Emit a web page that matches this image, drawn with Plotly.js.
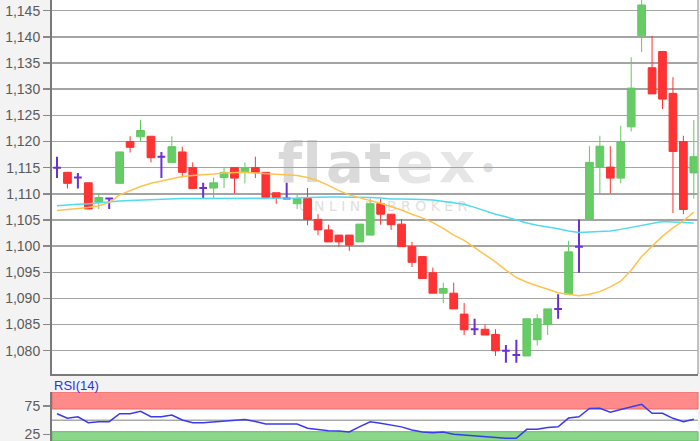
<!DOCTYPE html>
<html><head><meta charset="utf-8">
<script src="https://cdn.plot.ly/plotly-3.0.1.min.js"></script>
<style>html,body{margin:0;padding:0;background:#f3f3f3;} #chart{width:700px;height:441px;}</style>
</head><body><div id="chart"></div>
<script>
const session = [0,1,2,3,4,5,6,7,8,9,10,11,12,13,14,15,16,17,18,19,20,21,22,23,24,25,26,27,28,29,30,
  31,32,33,34,35,36,37,38,39,40,41,42,43,44,45,46,47,48,49,50,51,52,53,54,55,56,57,58,59,60,61];
const open = [1.1150,1.1141,1.1131,1.1121,1.1084,1.1091,1.1120,1.1200,1.1209,1.1210,
 1.1171,1.1160,1.1180,1.1150,1.1111,1.1111,1.1131,1.1150,1.1141,1.1150,
 1.1141,1.1102,1.1091,1.1081,1.1091,1.1051,1.1031,1.1021,1.1021,1.1008,
 1.1021,1.1081,1.1061,1.1042,1.0999,1.0980,1.0949,1.0910,1.0910,1.0870,
 1.0841,1.0841,1.0831,1.0800,1.0792,1.0790,1.0821,1.0850,1.0880,1.0908,
 1.0999,1.1051,1.1151,1.1151,1.1130,1.1228,1.1402,1.1341,1.1372,1.1292,
 1.1200,1.1140];
const high = [1.1171,1.1142,1.1140,1.1121,1.1101,1.1091,1.1180,1.1210,1.1241,1.1210,
 1.1180,1.1210,1.1190,1.1160,1.1121,1.1131,1.1150,1.1150,1.1160,1.1171,
 1.1141,1.1102,1.1121,1.1099,1.1111,1.1061,1.1041,1.1021,1.1021,1.1042,
 1.1091,1.1091,1.1061,1.1052,1.1008,1.0980,1.0959,1.0930,1.0930,1.0891,
 1.0861,1.0850,1.0841,1.0811,1.0821,1.0861,1.0870,1.0880,1.0908,1.1010,
 1.1051,1.1191,1.1211,1.1191,1.1230,1.1361,1.1475,1.1402,1.1372,1.1323,
 1.1211,1.1241];
const low = [1.1130,1.1110,1.1110,1.1071,1.1071,1.1071,1.1120,1.1179,1.1200,1.1160,
 1.1130,1.1160,1.1131,1.1110,1.1091,1.1091,1.1111,1.1101,1.1120,1.1130,
 1.1093,1.1081,1.1091,1.1071,1.1040,1.1021,1.1008,1.0999,1.0991,1.1008,
 1.1021,1.1041,1.1031,1.0999,1.0960,1.0938,1.0910,1.0891,1.0880,1.0830,
 1.0830,1.0830,1.0790,1.0777,1.0777,1.0790,1.0810,1.0830,1.0861,1.0908,
 1.0949,1.1051,1.1101,1.1101,1.1120,1.1219,1.1371,1.1291,1.1262,1.1063,
 1.1061,1.1091];
const close = [1.1150,1.1120,1.1131,1.1071,1.1093,1.1091,1.1180,1.1189,1.1221,1.1169,
 1.1171,1.1190,1.1141,1.1110,1.1111,1.1121,1.1141,1.1130,1.1150,1.1141,
 1.1093,1.1092,1.1091,1.1091,1.1051,1.1031,1.1008,1.1008,1.1002,1.1042,
 1.1081,1.1061,1.1041,1.0999,1.0969,1.0938,1.0910,1.0919,1.0880,1.0840,
 1.0841,1.0830,1.0800,1.0800,1.0792,1.0861,1.0861,1.0880,1.0880,1.0989,
 1.0999,1.1160,1.1191,1.1130,1.1200,1.1302,1.1461,1.1291,1.1281,1.1181,
 1.1070,1.1171];
const maFast = [1.1068,1.1070,1.1071,1.1074,1.1077,1.1083,1.1098,1.1106,1.1114,1.1120,
 1.1124,1.1129,1.1133,1.1135,1.1136,1.1138,1.1140,1.1141,1.1141,1.1140,
 1.1139,1.1138,1.1137,1.1135,1.1131,1.1125,1.1116,1.1106,1.1098,1.1092,
 1.1087,1.1082,1.1076,1.1069,1.1061,1.1054,1.1045,1.1034,1.1021,1.1011,
 1.0997,1.0983,1.0970,1.0954,1.0940,1.0931,1.0924,1.0917,1.0911,1.0908,
 1.0905,1.0908,1.0913,1.0922,1.0933,1.0954,1.0980,1.1000,1.1019,1.1035,
 1.1048,1.1065];
const maSlow = [1.1077,1.1079,1.1080,1.1081,1.1083,1.1084,1.1086,1.1087,1.1088,1.1089,
 1.1090,1.1091,1.1091,1.1091,1.1091,1.1091,1.1091,1.1091,1.1091,1.1091,
 1.1091,1.1091,1.1091,1.1092,1.1093,1.1094,1.1094,1.1094,1.1094,1.1094,
 1.1093,1.1092,1.1090,1.1090,1.1090,1.1089,1.1088,1.1085,1.1082,1.1080,
 1.1074,1.1067,1.1061,1.1056,1.1050,1.1044,1.1040,1.1037,1.1033,1.1029,
 1.1026,1.1027,1.1028,1.1029,1.1032,1.1036,1.1040,1.1044,1.1047,1.1046,
 1.1045,1.1044];
const rsi = [61.7,53.6,56.4,45.9,47.6,47.6,61.7,61.7,65.9,56.4,
 56.4,59.4,50.6,45.9,45.9,47.0,48.5,49.5,51.5,48.0,
 43.6,43.6,43.6,43.6,36.0,34.0,31.5,31.2,29.5,39.0,
 47.6,45.0,42.0,38.5,33.0,29.5,28.0,29.5,25.5,24.0,
 22.5,21.0,19.0,18.4,18.4,34.2,34.2,37.5,38.8,54.0,
 56.4,71.0,71.2,64.5,69.0,73.5,78.3,62.5,62.4,53.6,
 47.6,51.8];
const priceTicks = [1.080,1.085,1.090,1.095,1.100,1.105,1.110,1.115,1.120,1.125,1.130,1.135,1.140,1.145];
const rsiTicks = [25,75];
const rsiUpper = 70, rsiLower = 30, rsiMid = 50;

// split candles: doji (open == close) drawn purple
const pick = (arr, cond) => arr.filter((_, i) => cond(i));
const isDoji = i => open[i] === close[i];
const notDoji = i => open[i] !== close[i];

const FONT = 'Liberation Sans, Arial, sans-serif';
const W = 700, H = 441, ML = 52, MR = 2;
const px2x = px => (px - ML) / (W - ML - MR);
const py2y = py => (H - py) / H;

const traces = [
  {type:'scatter', mode:'lines', x:session, y:maSlow, xaxis:'x', yaxis:'y',
   line:{color:'#52d9f2', width:1.5}, hoverinfo:'skip'},
  {type:'scatter', mode:'lines', x:session, y:maFast, xaxis:'x', yaxis:'y',
   line:{color:'#ffc24f', width:1.5}, hoverinfo:'skip'},
  {type:'candlestick', x:pick(session,notDoji), open:pick(open,notDoji), high:pick(high,notDoji),
   low:pick(low,notDoji), close:pick(close,notDoji), xaxis:'x', yaxis:'y', whiskerwidth:0,
   increasing:{line:{color:'#62c962', width:1}, fillcolor:'#66cc66'},
   decreasing:{line:{color:'#ff3030', width:1}, fillcolor:'#ff3333'}},
  {type:'candlestick', x:pick(session,isDoji), open:pick(open,isDoji), high:pick(high,isDoji),
   low:pick(low,isDoji), close:pick(close,isDoji), xaxis:'x', yaxis:'y', whiskerwidth:0,
   increasing:{line:{color:'#6a30d8', width:2}, fillcolor:'#6a30d8'},
   decreasing:{line:{color:'#6a30d8', width:2}, fillcolor:'#6a30d8'}},
  {type:'scatter', mode:'lines', x:session, y:rsi, xaxis:'x2', yaxis:'y2',
   line:{color:'#3a3af0', width:1.5}, hoverinfo:'skip'}
];

const shapes = [
  {type:'rect', layer:'between', xref:'paper', yref:'y2', x0:0, x1:1, y0:rsiUpper, y1:100,
   fillcolor:'#ff8a8a', line:{color:'#e86a6a', width:1}},
  {type:'rect', layer:'between', xref:'paper', yref:'y2', x0:0, x1:1, y0:13.6, y1:rsiLower,
   fillcolor:'#8ad68a', line:{color:'#66bb66', width:1}},
  {type:'line', layer:'between', xref:'paper', yref:'y2', x0:0, x1:1, y0:rsiMid, y1:rsiMid,
   line:{color:'#aaaaaa', width:1.5}},
  {type:'line', layer:'above', xref:'paper', yref:'paper', x0:1, x1:1, y0:py2y(374), y1:1,
   line:{color:'#b0b0b0', width:1.5}}
];
// watermark letters
const wm = [['f',290,56,0,'#dadada'],['l',312,56,0,'#dadada'],['a',345,56,0,'#dadada'],['t',378,56,0,'#dadada'],
            ['e',415,56,0,'#e6e6e6'],['x',457,56,0,'#e6e6e6'],['•',488,26,9,'#e0e0e0']];
wm.forEach(([ch,cx,sz,dy,col]) => {
  shapes.push({type:'rect', layer:'below', xref:'paper', yref:'paper',
    x0:px2x(cx-15), x1:px2x(cx+15), y0:py2y(190+dy), y1:py2y(126+dy),
    line:{width:0}, fillcolor:'rgba(0,0,0,0)',
    label:{text:ch, textposition:'middle center', font:{family:'DejaVu Sans', size:sz, weight:'bold', color:col}}});
});
shapes.push({type:'rect', layer:'below', xref:'paper', yref:'paper',
  x0:px2x(283), x1:px2x(483), y0:py2y(213), y1:py2y(197),
  line:{width:0}, fillcolor:'rgba(0,0,0,0)',
  label:{text:'O N L I N E   B R O K E R', textposition:'middle center',
         font:{family:'DejaVu Sans', size:14, color:'#e0e0e0'}}});

const layout = {
  width:W, height:H, margin:{l:ML, r:MR, t:0, b:0},
  paper_bgcolor:'#f3f3f3', plot_bgcolor:'#ffffff',
  separators:',.', showlegend:false, boxgap:0.26, boxgroupgap:0,
  font:{family:FONT, size:14, color:'#5a5a5a'},
  xaxis:{domain:[0,1], range:[-0.48,61.4], anchor:'y', showgrid:false, zeroline:false,
         showticklabels:false, ticks:'', showline:true, linecolor:'#7a7a7a', linewidth:2,
         rangeslider:{visible:false}, fixedrange:true},
  yaxis:{domain:[py2y(374),1], range:[1.07555,1.14705], anchor:'x', tickmode:'array',
         tickvals:priceTicks, tickformat:'.3f', ticks:'outside', ticklen:7, tickcolor:'#888888',
         tickwidth:1.5, showgrid:true, gridcolor:'#a4a4a4', gridwidth:1.5, zeroline:false,
         showline:true, linecolor:'#7a7a7a', linewidth:2, tickfont:{size:14, color:'#5a5a5a'}},
  xaxis2:{domain:[0,1], matches:'x', anchor:'y2', showgrid:false, zeroline:false,
          showticklabels:false, ticks:'', showline:false},
  yaxis2:{domain:[0,py2y(392)], range:[13.6,100], anchor:'x2', tickmode:'array', tickvals:rsiTicks,
          ticks:'outside', ticklen:7, tickcolor:'#888888', tickwidth:1.5, showgrid:false,
          zeroline:false, showline:true, linecolor:'#7a7a7a', linewidth:2, ticklabeloverflow:'allow',
          tickfont:{size:14, color:'#5a5a5a'}},
  shapes:shapes,
  annotations:[{text:'RSI(14)', xref:'paper', yref:'paper', x:0, y:py2y(385), xanchor:'left',
                yanchor:'middle', showarrow:false, font:{family:FONT, size:13, color:'#2f2fee'}}]
};
Plotly.newPlot('chart', traces, layout, {displayModeBar:false, staticPlot:true});
</script>
</body></html>
